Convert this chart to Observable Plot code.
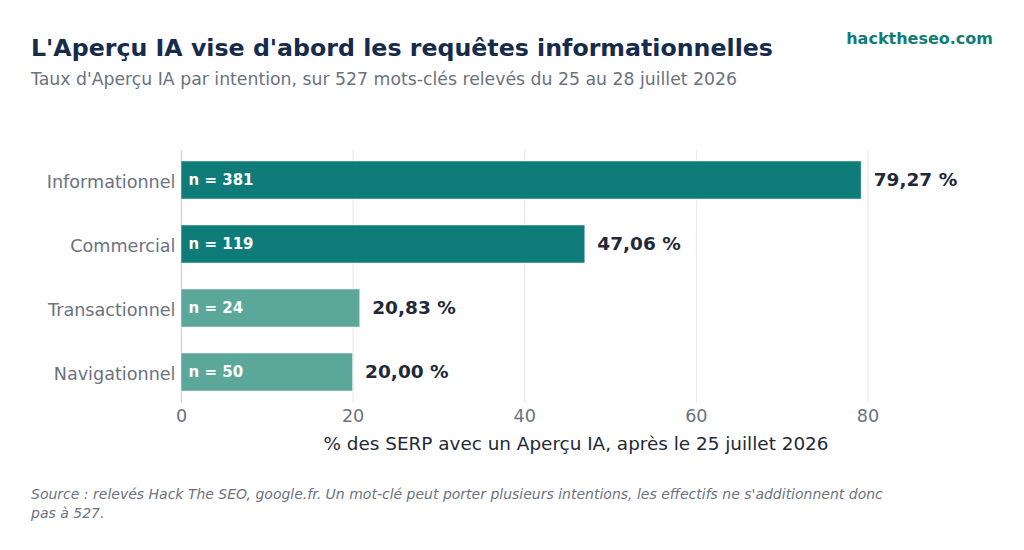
<!DOCTYPE html>
<html><head><meta charset="utf-8">
<script src="https://cdn.jsdelivr.net/npm/d3@7"></script>
<script src="https://cdn.jsdelivr.net/npm/@observablehq/plot@0.6"></script>
<style>
body{margin:0;background:#fff;font-family:"DejaVu Sans",sans-serif;width:1024px;height:550px;position:relative;overflow:hidden}
#title{position:absolute;left:31px;top:34px;font-size:23.7px;font-weight:bold;color:#172b4d;white-space:nowrap}
#sub{position:absolute;left:31px;top:69px;font-size:17.3px;color:#6b7280;white-space:nowrap}
#brand{position:absolute;right:31px;top:29px;font-size:16px;font-weight:bold;color:#117c78}
#chart{position:absolute;left:0;top:110px}
#cap{position:absolute;left:31px;top:485px;width:858px;font-size:14px;font-style:italic;color:#6b7280;line-height:19px}
</style></head><body>
<div id="title">L'Aperçu IA vise d'abord les requêtes informationnelles</div>
<div id="sub">Taux d'Aperçu IA par intention, sur 527 mots-clés relevés du 25 au 28 juillet 2026</div>
<div id="brand">hacktheseo.com</div>
<div id="chart"></div>
<div id="cap">Source : relevés Hack The SEO, google.fr. Un mot-clé peut porter plusieurs intentions, les effectifs ne s'additionnent donc pas à 527.</div>
<script>
const intentions = ["Informationnel", "Commercial", "Transactionnel", "Navigationnel"];
const taux = [79.27, 47.06, 20.83, 20.00];
const effectifs = [381, 119, 24, 50];
const xTicks = [0, 20, 40, 60, 80];

const data = intentions.map((k, i) => ({intention: k, taux: taux[i], n: effectifs[i]}));
const fr = v => v.toFixed(2).replace(".", ",") + " %";
const dark = "#107c79", light = "#5ba89b";

const plot = Plot.plot({
  width: 1024,
  height: 353,
  marginLeft: 181,
  marginRight: 54,
  marginTop: 40,
  marginBottom: 60,
  style: {fontFamily: "DejaVu Sans, sans-serif", fontSize: "17.6px", background: "#fff"},
  x: {domain: [0, d3.max(taux) * 1.16], ticks: xTicks, label: null},
  y: {domain: intentions, paddingInner: 0.4, paddingOuter: 0.17, label: null},
  marks: [
    Plot.gridX(xTicks, {stroke: "#e5e7eb", strokeOpacity: 1, strokeWidth: 1}),
    Plot.ruleX([0], {stroke: "#d1d5db", strokeWidth: 1.5}),
    Plot.ruleY([0], {frameAnchor: "bottom", stroke: "#d1d5db", strokeWidth: 1.5}),
    Plot.barX(data, {y: "intention", x: "taux", fill: d => d.taux > 40 ? dark : light, stroke: "#ffffff", strokeWidth: 0.8, strokeOpacity: 0.6}),
    Plot.text(data, {y: "intention", x: 0, text: d => "n = " + d.n, textAnchor: "start", dx: 7, fill: "white", fontWeight: "bold", fontSize: 15}),
    Plot.text(data, {y: "intention", x: "taux", text: d => fr(d.taux), textAnchor: "start", dx: 12, fill: "#1f2937", fontWeight: "bold", fontSize: 18.5}),
    Plot.axisX({ticks: xTicks, tickSize: 0, tickPadding: 6, fill: "#6b7280", fontSize: 17.6,
      label: "% des SERP avec un Aperçu IA, après le 25 juillet 2026", labelAnchor: "center", labelArrow: "none", labelOffset: 46}),
    Plot.axisY({tickSize: 0, tickPadding: 6, dy: 2, fill: "#6b7280", fontSize: 17.6, label: null})
  ]
});
document.getElementById("chart").appendChild(plot);
plot.querySelectorAll("[aria-label='x-axis label'] text").forEach(t => { t.setAttribute("fill", "#1f2937"); t.setAttribute("font-size", "18.4"); });
</script>
</body></html>
